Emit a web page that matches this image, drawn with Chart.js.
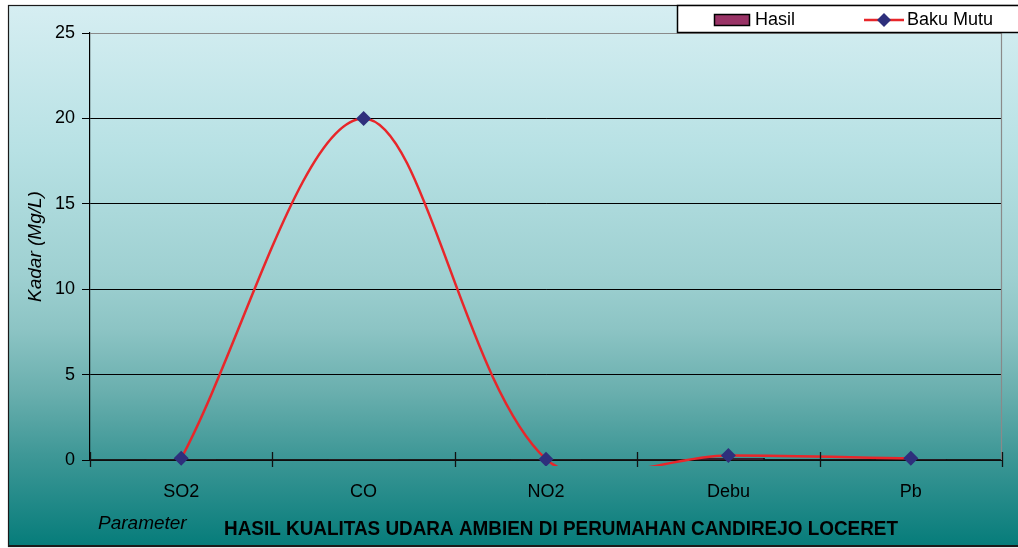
<!DOCTYPE html>
<html>
<head>
<meta charset="utf-8">
<script src="https://cdn.jsdelivr.net/npm/chart.js@4.4.1/dist/chart.umd.min.js"></script>
<style>
html,body{margin:0;padding:0;background:#ffffff;}
#wrap{width:1018px;height:548px;position:relative;}
</style>
</head>
<body>
<div id="wrap"><canvas id="c" width="1018" height="548"></canvas></div>
<script>
// ---- data ----
const categories = ["SO2", "CO", "NO2", "Debu", "Pb"];
const hasil = [0.01, 0.01, 0.01, 0.12, 0.002];
const bakuMutu = [0.1, 20, 0.05, 0.26, 0.1];
const yTicks = [0, 5, 10, 15, 20, 25];
const seriesNames = ["Hasil", "Baku Mutu"];
const axisTitleY = "Kadar (Mg/L)";
const axisTitleX = "Parameter";
const chartTitle = "HASIL KUALITAS UDARA AMBIEN DI PERUMAHAN CANDIREJO LOCERET";

const FONT = "'Liberation Sans', Arial, sans-serif";
const barColor = "#993366";
const lineColor = "#e8262a";
const markerColor = "#2e2f7c";

const bgPlugin = {
  id: "bg",
  beforeDraw(chart) {
    const ctx = chart.ctx;
    const x0 = 8, y0 = 5, x1 = chart.width + 2, y1 = 546;
    const g = ctx.createLinearGradient(0, y0, 0, y1);
    g.addColorStop(0, "#d6eef2");
    g.addColorStop(0.27, "#b7e1e4");
    g.addColorStop(0.5, "#9ed0d1");
    g.addColorStop(0.6, "#8cc4c4");
    g.addColorStop(0.72, "#68aead");
    g.addColorStop(0.83, "#3f9897");
    g.addColorStop(1, "#067c7a");
    ctx.save();
    ctx.fillStyle = g;
    ctx.fillRect(x0, y0, x1 - x0, y1 - y0);
    ctx.strokeStyle = "#1a1a1a";
    ctx.lineWidth = 1.2;
    ctx.strokeRect(x0 + 0.5, y0 + 0.5, x1 - x0, y1 - y0);
    ctx.lineWidth = 2;
    ctx.beginPath(); ctx.moveTo(x0, y1); ctx.lineTo(x1, y1); ctx.stroke();
    ctx.restore();
  },
  afterDraw(chart) {
    const ctx = chart.ctx;
    const a = chart.chartArea;
    const xs = chart.scales.x;
    ctx.save();
    // plot area top / right border (gray)
    ctx.strokeStyle = "#8a8a8a";
    ctx.lineWidth = 1.2;
    ctx.beginPath();
    ctx.moveTo(a.left, a.top + 0.5); ctx.lineTo(a.right - 0.5, a.top + 0.5); ctx.lineTo(a.right - 0.5, a.bottom);
    ctx.stroke();
    // x category boundary tick marks crossing the axis
    ctx.strokeStyle = "#111";
    ctx.lineWidth = 1.3;
    for (let i = 0; i <= categories.length; i++) {
      const px = Math.round(xs.getPixelForValue(i - 0.5)) + 0.5;
      ctx.beginPath(); ctx.moveTo(px, a.bottom - 8); ctx.lineTo(px, a.bottom + 7); ctx.stroke();
    }
    // legend
    const ds = chart.data.datasets;
    ctx.fillStyle = "#ffffff";
    ctx.fillRect(677, 5, chart.width - 677 + 5, 27);
    ctx.strokeStyle = "#000";
    ctx.lineWidth = 1.5;
    ctx.strokeRect(677.5, 5.5, chart.width - 677 + 5, 27);
    ctx.fillStyle = ds[1].backgroundColor;
    ctx.fillRect(714, 14, 36, 12);
    ctx.lineWidth = 1.5;
    ctx.strokeRect(714.5, 14.5, 35, 11);
    ctx.fillStyle = "#000";
    ctx.font = "18px " + FONT;
    ctx.textBaseline = "middle";
    ctx.textAlign = "left";
    ctx.fillText(ds[1].label, 755, 20);
    ctx.strokeStyle = ds[0].borderColor;
    ctx.lineWidth = 2.5;
    ctx.beginPath(); ctx.moveTo(864, 20); ctx.lineTo(904, 20); ctx.stroke();
    ctx.fillStyle = ds[0].pointBackgroundColor;
    ctx.beginPath();
    ctx.moveTo(884, 13); ctx.lineTo(891, 20); ctx.lineTo(884, 27); ctx.lineTo(877, 20); ctx.closePath(); ctx.fill();
    ctx.fillStyle = "#000";
    ctx.fillText(ds[0].label, 907, 20);
    // bottom texts
    ctx.textBaseline = "alphabetic";
    ctx.font = "italic 19px " + FONT;
    ctx.fillText(axisTitleX, 98, 529);
    ctx.font = "bold 21px " + FONT;
    const w = ctx.measureText(chartTitle).width;
    const target = 674;
    ctx.translate(224, 535);
    ctx.scale(target / w, 1);
    ctx.fillText(chartTitle, 0, 0);
    ctx.restore();
  }
};

new Chart(document.getElementById("c"), {
  type: "bar",
  data: {
    labels: categories,
    datasets: [
      {
        type: "line",
        label: seriesNames[1],
        data: bakuMutu,
        borderColor: lineColor,
        borderWidth: 2.5,
        backgroundColor: lineColor,
        pointStyle: "rectRot",
        pointRadius: 7.5,
        pointHoverRadius: 7.5,
        pointBackgroundColor: markerColor,
        pointBorderColor: markerColor,
        pointBorderWidth: 0,
        tension: 0.33,
        fill: false,
        order: 1,
        clip: { left: 10, top: 10, right: 10, bottom: 6 }
      },
      {
        type: "bar",
        label: seriesNames[0],
        data: hasil,
        backgroundColor: barColor,
        borderColor: "#000",
        borderWidth: 1.5,
        categoryPercentage: 0.8,
        barPercentage: 0.5,
        order: 2
      }
    ]
  },
  plugins: [bgPlugin],
  options: {
    responsive: false,
    animation: false,
    events: [],
    elements: { line: { capBezierPoints: false } },
    layout: { padding: { left: 0, top: 33, right: 16, bottom: 0 } },
    plugins: { legend: { display: false }, tooltip: { enabled: false }, title: { display: false } },
    scales: {
      x: {
        offset: true,
        grid: { display: false, drawTicks: false },
        border: { display: true, color: "#1a1a1a", width: 1.5 },
        ticks: { color: "#000", font: { family: FONT, size: 18 }, padding: 21, maxRotation: 0 },
        afterFit(s) { s.height = 88; }
      },
      y: {
        min: 0,
        max: 25,
        afterBuildTicks(s) { s.ticks = yTicks.map(v => ({ value: v })); },
        grid: {
          color: (c) => (c.tick && c.tick.value === 25 ? "#8a8a8a" : "#000"),
          tickColor: "#000",
          tickLength: 8,
          lineWidth: 1
        },
        border: { display: true, color: "#000", width: 1.2 },
        ticks: { color: "#000", font: { family: FONT, size: 18 }, padding: 7 },
        title: {
          display: true,
          text: axisTitleY,
          color: "#000",
          font: { family: FONT, size: 19, style: "italic" },
          padding: { top: 24, bottom: 0 }
        },
        afterFit(s) { s.width = 90; }
      }
    }
  }
});
</script>
</body>
</html>
